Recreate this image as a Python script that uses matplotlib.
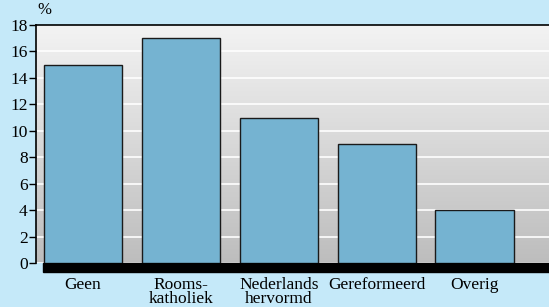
import numpy as np
import matplotlib.pyplot as plt
from matplotlib.patches import Rectangle
from matplotlib.colors import LinearSegmentedColormap

# data
categories = ["Geen", "Rooms-\nkatholiek", "Nederlands\nhervormd", "Gereformeerd", "Overig"]
values = [15, 17, 11, 9, 4]
yticks = [0, 2, 4, 6, 8, 10, 12, 14, 16, 18]

plt.rcParams['font.family'] = ['Liberation Serif', 'DejaVu Serif']

fig = plt.figure(figsize=(5.49, 3.07), dpi=100, facecolor='#c5e9f9')
ax = fig.add_axes([36 / 549, 1 - 263 / 307, 513 / 549, 238 / 307])

# gradient background of the plot area
grad = LinearSegmentedColormap.from_list('g', ['#bdbdbd', '#f3f3f3'])
ax.imshow(np.linspace(0, 1, 256).reshape(-1, 1), cmap=grad, origin='lower',
          extent=[0, 1, 0, 1], transform=ax.transAxes, aspect='auto', zorder=0)

x = np.arange(len(categories))
ax.bar(x, values, width=0.8, color='#75b3d1', edgecolor='#1a1a1a', linewidth=1.0, zorder=3)

ax.set_xlim(-0.48, 4.76)
ax.set_ylim(0, 18)
ax.set_yticks(yticks)
ax.set_xticks(x)
ax.set_xticklabels(categories, fontsize=12.5, linespacing=0.82)
ax.tick_params(axis='x', length=0, pad=10)
ax.tick_params(axis='y', length=5, width=1, labelsize=12.5, pad=1, direction='out')
ax.grid(axis='y', color='white', linewidth=1.2, zorder=1)

for s in ['right', 'bottom']:
    ax.spines[s].set_visible(False)
ax.spines['top'].set_linewidth(1.2)
ax.spines['left'].set_linewidth(1.2)

# black floor under the bars
ax.add_patch(Rectangle((7 / 513, -9 / 238), 1, 9 / 238, transform=ax.transAxes,
                       color='black', clip_on=False, zorder=2))

ax.text(0.003, 1.03, '%', transform=ax.transAxes, fontsize=12, ha='left', va='bottom')

fig.savefig('out.png', dpi=100, facecolor=fig.get_facecolor())
